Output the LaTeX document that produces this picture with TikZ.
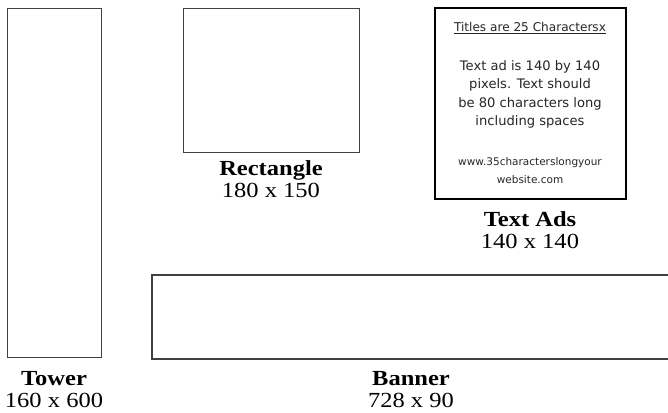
\documentclass[tikz,border=0pt]{standalone}
\usepackage{fontspec}
\setmainfont{Liberation Serif}
\newfontfamily\lblfont[FakeStretch=1.14]{Liberation Serif}
\newfontfamily\adfont{DejaVu Sans}
\tikzset{
  adbox/.style={draw=black!75, line width=0.9pt, rectangle, inner sep=0pt, fill=white},
  lbl/.style={anchor=base, inner sep=0pt, align=center, text=black,
    font=\lblfont\fontsize{21.5}{22}\selectfont},
  adtext/.style={anchor=base, inner sep=0pt, text=black!85, font=\adfont\fontsize{13.1}{14}\selectfont},
  adtitle/.style={anchor=base, inner sep=0pt, text=black!85, font=\adfont\fontsize{12.1}{14}\selectfont},
  adurl/.style={anchor=base, inner sep=0pt, text=black!85, font=\adfont\fontsize{10.5}{14}\selectfont}
}
\begin{document}
\begin{tikzpicture}[x=1pt,y=-1pt]
\useasboundingbox (0,0) rectangle (668,412);
\clip (0,0) rectangle (668,412);
\fill[white] (0,0) rectangle (668,412);
% boxes
\node[adbox, minimum width=94pt, minimum height=349pt] (tower) at (54,182.5) {};
\node[adbox, minimum width=176pt, minimum height=144pt] (rect) at (271,80) {};
\node[adbox, draw=black, line width=1.1pt, minimum width=191pt, minimum height=191pt] (textad) at (530.5,103.5) {};
\node[adbox, line width=1.1pt, minimum width=530pt, minimum height=84pt] (banner) at (417,317) {};
% labels (anchor = baseline of the last line)
\node[lbl] (towerL) at (54,407) {\textbf{Tower}\\160 x 600};
\node[lbl] (rectL) at (271,197) {\textbf{Rectangle}\\180 x 150};
\node[lbl] (adL) at (530,248) {\textbf{Text Ads}\\140 x 140};
\node[lbl] (banL) at (411,407) {\textbf{Banner}\\728 x 90};
% ad text
\node[adtitle] (t0) at (530,32) {\underline{Titles are 25 Charactersx}};
\node[adtext] (t1) at (530,70.5) {Text ad is 140 by 140};
\node[adtext] (t2) at (530,88.8) {pixels. Text should};
\node[adtext] (t3) at (530,107) {be 80 characters long};
\node[adtext] (t4) at (530,125.3) {including spaces};
\node[adurl] (u1) at (530,165) {www.35characterslongyour};
\node[adurl] (u2) at (530,183) {website.com};
\end{tikzpicture}
\end{document}
